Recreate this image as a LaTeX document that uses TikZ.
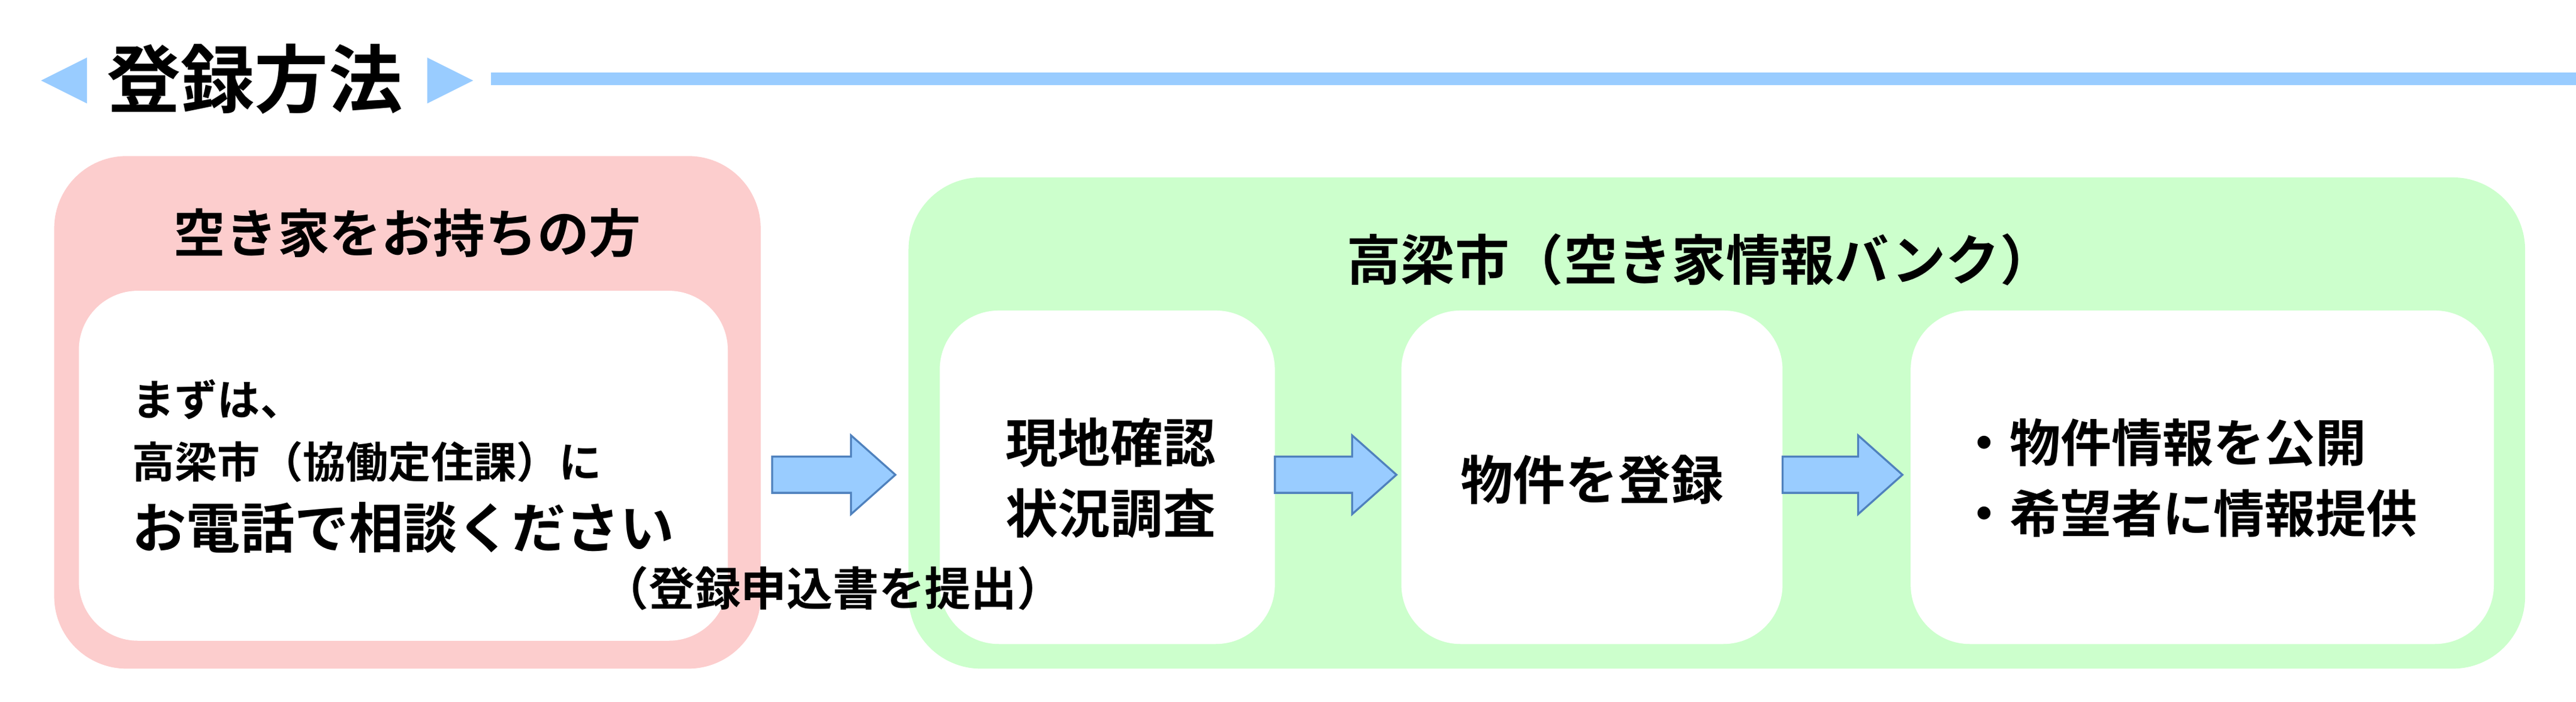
\documentclass[tikz,border=0pt]{standalone}
\usepackage{fontspec}
\setmainfont{Noto Sans CJK JP Bold}
\begin{document}
\begin{tikzpicture}[x=0.5pt,y=-0.5pt,
  pinkc/.style={fill=pinkfill,draw=none,rounded corners=22pt},
  greenc/.style={fill=greenfill,draw=none,rounded corners=22pt},
  whitebox/.style={fill=white,draw=none,rounded corners=18pt},
  txt/.style={font=\fontsize{15.5}{21}\selectfont,align=center,inner sep=0pt},
  barrow/.style={fill=arrowfill,draw=arrowdraw,line width=0.6pt,line join=miter}]
\definecolor{pinkfill}{HTML}{FCCDCD}
\definecolor{greenfill}{HTML}{CCFFCC}
\definecolor{bluefill}{HTML}{99CCFF}
\definecolor{arrowfill}{HTML}{99CCFF}
\definecolor{arrowdraw}{HTML}{4F81BD}
\useasboundingbox (0,0) rectangle (1568,427);
% header
\fill[bluefill] (25,49) -- (53,35) -- (53,63) -- cycle;
\fill[bluefill] (288,49) -- (260,35) -- (260,63) -- cycle;
\node[inner sep=0pt,font=\fontsize{22.5}{26}\selectfont] (title) at (155,48) {登録方法};
\fill[bluefill] (299,44) rectangle (1568,52);
% left box
\fill[pinkc] (33,95) rectangle (463,407);
\node[txt,font=\fontsize{15.8}{20}\selectfont] (owner) at (248,142) {空き家をお持ちの方};
\fill[whitebox] (48,177) rectangle (443,390);
\node[txt,anchor=west,font=\fontsize{13}{17}\selectfont] (l1) at (80,243) {まずは、};
\node[txt,anchor=west,font=\fontsize{13}{17}\selectfont] (l2) at (80,281) {高梁市（協働定住課）に};
\node[txt,anchor=west,font=\fontsize{16.5}{20}\selectfont] (l3) at (80,321) {お電話で相談ください};
% green box
\fill[greenc] (553,108) rectangle (1537,407);
\node[txt,font=\fontsize{16.5}{20}\selectfont] (city) at (1035,158) {高梁市（空き家情報バンク）};
\fill[whitebox] (572,189) rectangle (776,392);
\fill[whitebox] (853,189) rectangle (1085,392);
\fill[whitebox] (1163,189) rectangle (1518,392);
\node[txt,font=\fontsize{16}{21.5}\selectfont] (s1) at (676,291) {現地確認\\状況調査};
\node[txt,font=\fontsize{16}{20}\selectfont] (s2) at (969,292) {物件を登録};
\node[txt,align=left,anchor=west,font=\fontsize{15.5}{21.5}\selectfont] (s3) at (1192,291) {・物件情報を公開\\・希望者に情報提供};
\node[txt,font=\fontsize{14}{18}\selectfont] (sub) at (507,358) {（登録申込書を提出）};
% arrows
\foreach \a/\b in {470/545,776/850,1085/1158}{
  \pgfmathsetmacro{\m}{\b-27}
  \draw[barrow] (\a,278) -- (\m,278) -- (\m,265) -- (\b,289) -- (\m,313) -- (\m,300) -- (\a,300) -- cycle;
}
\end{tikzpicture}
\end{document}
